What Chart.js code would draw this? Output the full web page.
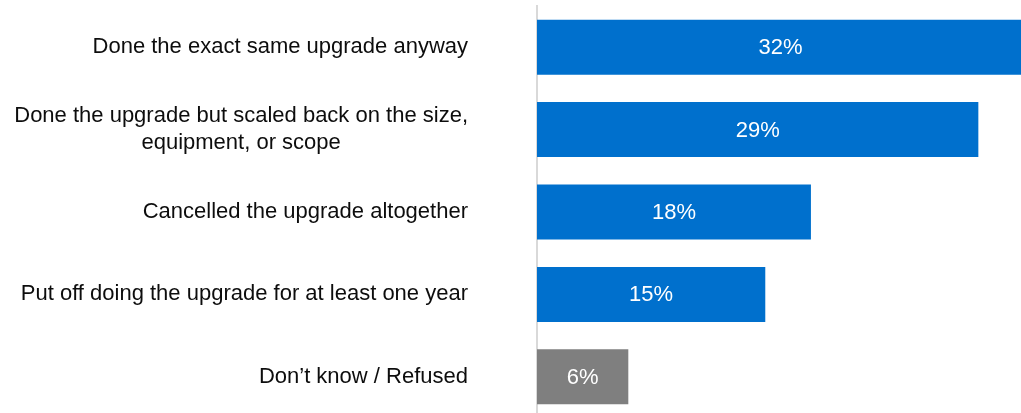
<!DOCTYPE html>
<html>
<head>
<meta charset="utf-8">
<script src="https://cdn.jsdelivr.net/npm/chart.js@4/dist/chart.umd.min.js"></script>
<style>
  html, body { margin: 0; padding: 0; background: #fff; overflow: hidden; }
  #wrap { width: 1021px; height: 413px; overflow: hidden; }
  canvas { display: block; }
</style>
</head>
<body>
<div id="wrap"><canvas id="bars" width="1024" height="418"></canvas></div>
<script>
/* global Chart */

const categories = [
  'Done the exact same upgrade anyway',
  ['Done the upgrade but scaled back on the size,', 'equipment, or scope'],
  'Cancelled the upgrade altogether',
  'Put off doing the upgrade for at least one year',
  'Don\u2019t know / Refused'
]
const values = [32, 29, 18, 15, 6]
const barColors = ['#0070CD', '#0070CD', '#0070CD', '#0070CD', '#7F7F7F']

const FONT = '22px "Liberation Sans", Arial, sans-serif'
const LABEL_GAP = 69
const LINE_H = 27

// category names: right-aligned block, wrapped lines centred inside it
const sideLabels = {
  id: 'sideLabels',
  afterDraw (chart) {
    const { ctx } = chart
    const y = chart.scales.y
    const x = chart.scales.x
    ctx.save()
    ctx.font = FONT
    ctx.textBaseline = 'middle'
    ctx.textAlign = 'center'
    ctx.fillStyle = '#0d0d0d'
    categories.forEach((cat, i) => {
      const lines = [].concat(cat)
      const w = Math.max(...lines.map(l => ctx.measureText(l).width))
      const cx = y.right - LABEL_GAP - w / 2
      const cy = y.getPixelForValue(i)
      lines.forEach((l, j) => {
        ctx.fillText(l, cx, cy + (j - (lines.length - 1) / 2) * LINE_H)
      })
    })
    // value inside each bar
    ctx.fillStyle = '#ffffff'
    values.forEach((v, i) => {
      const cx = (x.getPixelForValue(0) + x.getPixelForValue(v)) / 2
      ctx.fillText(v + '%', cx, y.getPixelForValue(i) + 1)
    })
    ctx.restore()
  }
}

new Chart(document.getElementById('bars'), {
  type: 'bar',
  data: {
    labels: categories,
    datasets: [{
      data: values,
      backgroundColor: barColors,
      borderWidth: 0,
      barPercentage: 0.667,
      categoryPercentage: 1
    }]
  },
  options: {
    indexAxis: 'y',
    responsive: false,
    animation: false,
    devicePixelRatio: 1,
    layout: { padding: { top: 6, left: 0, right: 0, bottom: 0 } },
    plugins: {
      legend: { display: false },
      tooltip: { enabled: false }
    },
    scales: {
      x: {
        min: 0,
        max: 32,
        display: false
      },
      y: {
        grid: { display: false },
        border: { display: true, color: '#d9d9d9', width: 2 },
        ticks: { display: false },
        afterFit (scale) { scale.width = 537 }
      }
    }
  },
  plugins: [sideLabels]
})
</script>
</body>
</html>
